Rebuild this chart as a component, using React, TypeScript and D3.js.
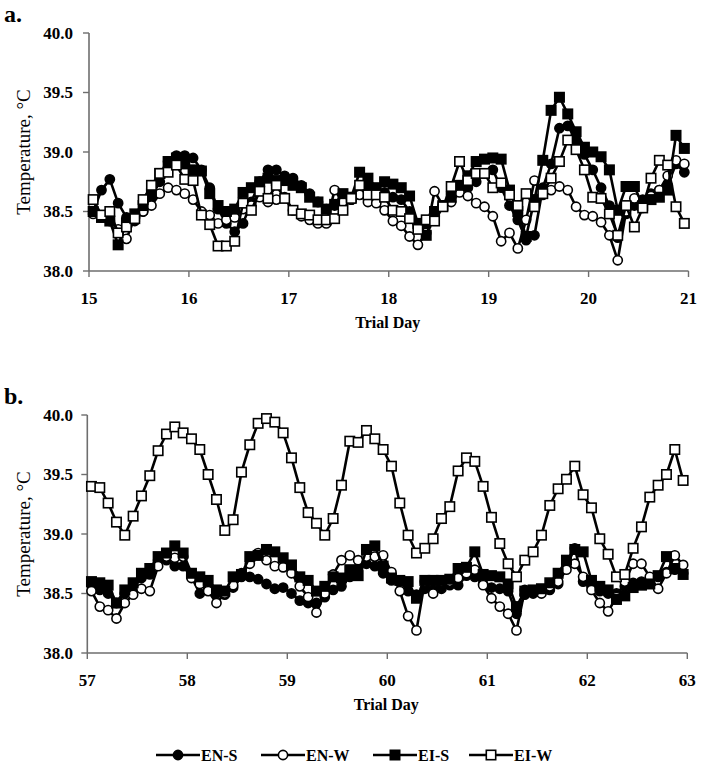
import React from "react";
import * as d3 from "d3";

// sampling: every 2 h, hours after the start of the first day
const HOURS = d3.range(1, 144, 2);

const Y_TICKS = [38.0, 38.5, 39.0, 39.5, 40.0];
const A_DAYS = [15, 16, 17, 18, 19, 20, 21];
const B_DAYS = [57, 58, 59, 60, 61, 62, 63];

const SERIES = ["EN-S", "EN-W", "EI-S", "EI-W"];

// Panel a (days 15-21)
const A_EN_S = [38.50, 38.68, 38.77, 38.57, 38.45, 38.42, 38.50, 38.62, 38.75, 38.92, 38.97, 38.97,
  38.95, 38.85, 38.70, 38.52, 38.40, 38.33, 38.40, 38.58, 38.75, 38.85, 38.85, 38.80,
  38.78, 38.72, 38.65, 38.58, 38.52, 38.55, 38.58, 38.60, 38.68, 38.72, 38.68, 38.66,
  38.62, 38.60, 38.50, 38.40, 38.38, 38.48, 38.55, 38.62, 38.72, 38.70, 38.75, 38.82,
  38.85, 38.70, 38.55, 38.43, 38.26, 38.30, 38.70, 38.90, 39.20, 39.22, 39.10, 38.98,
  38.85, 38.70, 38.55, 38.28, 38.48, 38.55, 38.60, 38.65, 38.68, 38.72, 38.90, 38.83];
const A_EN_W = [38.48, 38.45, 38.42, 38.35, 38.27, 38.45, 38.50, 38.55, 38.65, 38.70, 38.68, 38.65,
  38.60, 38.50, 38.47, 38.40, 38.43, 38.45, 38.52, 38.55, 38.62, 38.58, 38.60, 38.62,
  38.51, 38.46, 38.43, 38.40, 38.40, 38.68, 38.58, 38.60, 38.64, 38.58, 38.57, 38.51,
  38.42, 38.38, 38.29, 38.22, 38.32, 38.67, 38.55, 38.58, 38.66, 38.63, 38.57, 38.54,
  38.46, 38.25, 38.32, 38.19, 38.43, 38.76, 38.64, 38.68, 38.71, 38.68, 38.54, 38.47,
  38.46, 38.41, 38.30, 38.09, 38.50, 38.61, 38.53, 38.63, 38.68, 38.80, 38.93, 38.90];
const A_EI_S = [38.50, 38.45, 38.42, 38.22, 38.40, 38.48, 38.55, 38.65, 38.82, 38.92, 38.95, 38.90,
  38.85, 38.84, 38.65, 38.55, 38.50, 38.52, 38.66, 38.70, 38.75, 38.78, 38.76, 38.76,
  38.72, 38.70, 38.62, 38.58, 38.52, 38.56, 38.65, 38.62, 38.83, 38.78, 38.70, 38.75,
  38.73, 38.70, 38.63, 38.40, 38.30, 38.50, 38.55, 38.62, 38.72, 38.80, 38.92, 38.94,
  38.95, 38.94, 38.68, 38.50, 38.29, 38.60, 38.93, 39.35, 39.46, 39.32, 39.17, 39.04,
  39.00, 38.96, 38.85, 38.51, 38.71, 38.71, 38.55, 38.60, 38.62, 38.68, 39.14, 39.03];
const A_EI_W = [38.60, 38.47, 38.50, 38.32, 38.37, 38.44, 38.60, 38.72, 38.82, 38.83, 38.89, 38.77,
  38.76, 38.47, 38.39, 38.21, 38.21, 38.25, 38.57, 38.51, 38.67, 38.61, 38.72, 38.61,
  38.51, 38.48, 38.47, 38.43, 38.43, 38.44, 38.51, 38.61, 38.72, 38.64, 38.64, 38.62,
  38.51, 38.50, 38.44, 38.35, 38.43, 38.42, 38.54, 38.71, 38.92, 38.76, 38.82, 38.82,
  38.70, 38.74, 38.64, 38.55, 38.65, 38.54, 38.65, 38.78, 38.92, 39.10, 39.02, 38.85,
  38.62, 38.61, 38.48, 38.30, 38.55, 38.37, 38.53, 38.78, 38.93, 38.89, 38.54, 38.40];

// Panel b (days 57-63)
const B_EN_S = [38.57, 38.53, 38.50, 38.42, 38.50, 38.55, 38.63, 38.66, 38.78, 38.78, 38.73, 38.73,
  38.64, 38.50, 38.54, 38.50, 38.49, 38.55, 38.64, 38.64, 38.62, 38.58, 38.54, 38.55,
  38.50, 38.44, 38.42, 38.42, 38.47, 38.53, 38.56, 38.64, 38.71, 38.75, 38.73, 38.67,
  38.61, 38.60, 38.52, 38.49, 38.54, 38.53, 38.54, 38.57, 38.57, 38.65, 38.64, 38.58,
  38.55, 38.54, 38.52, 38.33, 38.49, 38.50, 38.51, 38.53, 38.58, 38.73, 38.88, 38.60,
  38.56, 38.52, 38.50, 38.50, 38.56, 38.59, 38.60, 38.62, 38.64, 38.68, 38.70, 38.67];
const B_EN_W = [38.52, 38.39, 38.36, 38.29, 38.42, 38.49, 38.54, 38.52, 38.73, 38.81, 38.80, 38.81,
  38.63, 38.58, 38.52, 38.42, 38.50, 38.57, 38.67, 38.75, 38.84, 38.78, 38.73, 38.72,
  38.67, 38.56, 38.47, 38.34, 38.50, 38.66, 38.78, 38.82, 38.78, 38.81, 38.81, 38.82,
  38.68, 38.52, 38.31, 38.19, 38.60, 38.50, 38.60, 38.60, 38.63, 38.67, 38.70, 38.57,
  38.46, 38.39, 38.33, 38.19, 38.53, 38.52, 38.50, 38.56, 38.60, 38.70, 38.75, 38.64,
  38.53, 38.42, 38.35, 38.47, 38.60, 38.75, 38.75, 38.64, 38.54, 38.67, 38.82, 38.74];
const B_EI_S = [38.60, 38.59, 38.57, 38.42, 38.53, 38.59, 38.67, 38.71, 38.81, 38.84, 38.90, 38.84,
  38.67, 38.64, 38.61, 38.53, 38.52, 38.64, 38.66, 38.81, 38.82, 38.87, 38.85, 38.80,
  38.74, 38.64, 38.61, 38.52, 38.56, 38.64, 38.63, 38.70, 38.65, 38.87, 38.90, 38.73,
  38.63, 38.61, 38.60, 38.46, 38.61, 38.61, 38.61, 38.62, 38.71, 38.72, 38.85, 38.66,
  38.65, 38.64, 38.58, 38.39, 38.52, 38.53, 38.54, 38.59, 38.67, 38.78, 38.87, 38.85,
  38.61, 38.56, 38.53, 38.45, 38.48, 38.55, 38.57, 38.58, 38.65, 38.81, 38.71, 38.66];
const B_EI_W = [39.40, 39.39, 39.26, 39.10, 38.99, 39.15, 39.32, 39.49, 39.70, 39.84, 39.90, 39.85,
  39.80, 39.71, 39.50, 39.29, 39.03, 39.12, 39.52, 39.75, 39.93, 39.97, 39.94, 39.85,
  39.64, 39.39, 39.18, 39.09, 38.99, 39.13, 39.41, 39.78, 39.77, 39.87, 39.80, 39.71,
  39.57, 39.26, 38.99, 38.84, 38.88, 38.96, 39.13, 39.23, 39.53, 39.64, 39.61, 39.40,
  39.14, 38.92, 38.75, 38.64, 38.78, 38.85, 38.99, 39.24, 39.38, 39.46, 39.57, 39.33,
  39.22, 38.96, 38.83, 38.64, 38.66, 38.88, 39.06, 39.31, 39.41, 39.50, 39.71, 39.45];

const SERIF = "'Liberation Serif', 'Times New Roman', serif";
const AXIS = "#6e6e6e";

type MarkerKind = "circle" | "square";
const STYLE: Record<string, { kind: MarkerKind; filled: boolean }> = {
  "EN-S": { kind: "circle", filled: true },
  "EN-W": { kind: "circle", filled: false },
  "EI-S": { kind: "square", filled: true },
  "EI-W": { kind: "square", filled: false },
};

function Marker({ x, y, name }: { x: number; y: number; name: string }) {
  const s = STYLE[name];
  const fill = s.filled ? "#000" : "#fff";
  if (s.kind === "circle") {
    return <circle cx={x} cy={y} r={4.6} fill={fill} stroke="#000" strokeWidth={1.6} />;
  }
  return <rect x={x - 4.7} y={y - 4.7} width={9.4} height={9.4} fill={fill} stroke="#000" strokeWidth={1.6} />;
}

function Panel({ label, days, data, left, right, top, bottom, labelY }: {
  label: string; days: number[]; data: Record<string, number[]>;
  left: number; right: number; top: number; bottom: number; labelY: number;
}) {
  const x = d3.scaleLinear().domain([days[0], days[days.length - 1]]).range([left, right]);
  const y = d3.scaleLinear().domain([38, 40]).range([bottom, top]);
  const t = HOURS.map((h) => days[0] + h / 24);
  const line = d3.line<number>().x((_, i) => x(t[i])).y((v) => y(v));
  return (
    <g>
      <text x={4} y={labelY} fontFamily={SERIF} fontWeight="bold" fontSize={24}>{label}</text>
      {/* axes */}
      <line x1={left} x2={left} y1={top} y2={bottom} stroke={AXIS} strokeWidth={1.6} />
      <line x1={left} x2={right} y1={bottom} y2={bottom} stroke={AXIS} strokeWidth={1.6} />
      {Y_TICKS.map((v) => (
        <g key={v}>
          <line x1={left - 6} x2={left} y1={y(v)} y2={y(v)} stroke={AXIS} strokeWidth={1.4} />
          <text x={73} y={y(v)} dy="0.35em" textAnchor="end" fontFamily={SERIF} fontWeight="bold" fontSize={17}>
            {v.toFixed(1)}
          </text>
        </g>
      ))}
      {days.map((d) => (
        <g key={d}>
          <line x1={x(d)} x2={x(d)} y1={bottom} y2={bottom + 6} stroke={AXIS} strokeWidth={1.4} />
          <text x={x(d)} y={bottom + 27} dy="0.35em" textAnchor="middle" fontFamily={SERIF} fontWeight="bold" fontSize={17}>
            {d}
          </text>
        </g>
      ))}
      <text x={(left + right) / 2 - 1} y={bottom + 51} dy="0.35em" textAnchor="middle" fontFamily={SERIF} fontWeight="bold" fontSize={16}>
        Trial Day
      </text>
      <text transform={`translate(23,${(top + bottom) / 2}) rotate(-90)`} textAnchor="middle" dy="0.35em"
        fontFamily={SERIF} fontSize={19}>
        Temperature, °C
      </text>
      {SERIES.map((name) => (
        <g key={name}>
          <path d={line(data[name]) || ""} fill="none" stroke="#000" strokeWidth={2.6} strokeLinejoin="round" />
          {data[name].map((v, i) => (
            <Marker key={i} x={x(t[i])} y={y(v)} name={name} />
          ))}
        </g>
      ))}
    </g>
  );
}

const LEGEND_X = [156, 261, 373, 469];

export default function App() {
  return (
    <svg width={701} height={773} style={{ position: "absolute", left: 0, top: 0, background: "#fff" }}>
      <rect width={701} height={773} fill="#fff" />
      <Panel label="a." days={A_DAYS} left={89} right={688.5} top={33} bottom={271} labelY={22}
        data={{ "EN-S": A_EN_S, "EN-W": A_EN_W, "EI-S": A_EI_S, "EI-W": A_EI_W }} />
      <Panel label="b." days={B_DAYS} left={87.3} right={687.3} top={415} bottom={653} labelY={404}
        data={{ "EN-S": B_EN_S, "EN-W": B_EN_W, "EI-S": B_EI_S, "EI-W": B_EI_W }} />
      {SERIES.map((name, i) => (
        <g key={name}>
          <line x1={LEGEND_X[i]} x2={LEGEND_X[i] + 44} y1={755} y2={755} stroke="#000" strokeWidth={2.6} />
          <Marker x={LEGEND_X[i] + 22} y={755} name={name} />
          <text x={LEGEND_X[i] + 45} y={755} dy="0.35em" fontFamily={SERIF} fontWeight="bold" fontSize={16}>{name}</text>
        </g>
      ))}
    </svg>
  );
}
